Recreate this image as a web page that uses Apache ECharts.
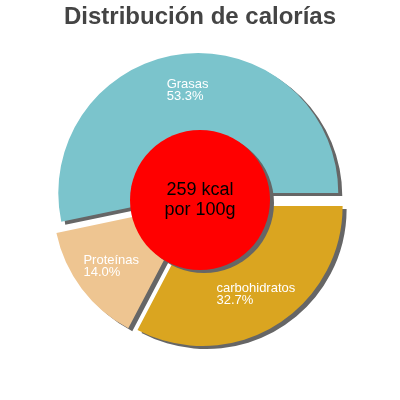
<!DOCTYPE html>
<html>
<head>
<meta charset="utf-8">
<script src="https://cdn.jsdelivr.net/npm/echarts@6/dist/echarts.min.js"></script>
<style>html,body{margin:0;padding:0;background:#fff}#c{width:400px;height:400px}</style>
</head>
<body>
<div id="c"></div>
<script>
const categories = ['Grasas', 'Proteínas', 'carbohidratos'];
const percentages = [53.3, 14.0, 32.7];
const sliceColors = ['#7BC4CC', '#EEC591', '#DAA520'];
const centerLines = ['259 kcal', 'por 100g'];
const titleText = 'Distribución de calorías';

const shadow = { shadowColor: '#666666', shadowBlur: 0, shadowOffsetX: 4, shadowOffsetY: 3 };

const chart = echarts.init(document.getElementById('c'), null, { renderer: 'canvas' });
chart.setOption({
  animation: false,
  title: {
    text: titleText,
    left: 'center',
    top: 0,
    textStyle: { fontFamily: 'Liberation Sans, Arial, sans-serif', fontSize: 24, fontWeight: 'bold', color: '#444444' }
  },
  series: [
    {
      type: 'pie',
      center: [199, 200],
      radius: [60, 140],
      startAngle: 0,
      clockwise: false,
      selectedMode: 'multiple',
      selectedOffset: 7,
      avoidLabelOverlap: false,
      emphasis: { disabled: true },
      select: { itemStyle: Object.assign({}, shadow) },
      itemStyle: Object.assign({ borderWidth: 0 }, shadow),
      label: {
        show: true,
        position: 'inside',
        color: '#ffffff',
        fontFamily: 'Liberation Sans, Arial, sans-serif',
        fontSize: 13,
        formatter: function (p) { return '{t|' + p.name + '}\n{t|' + p.value.toFixed(1) + '%}'; },
        rich: { t: { align: 'left', color: '#ffffff', fontSize: 13, lineHeight: 12, fontFamily: 'Liberation Sans, Arial, sans-serif' } }
      },
      labelLine: { show: false },
      data: categories.map((n, i) => ({ name: n, value: percentages[i], selected: true, itemStyle: { color: sliceColors[i] } }))
    },
    {
      type: 'pie',
      center: [200, 200],
      radius: [0, 70],
      silent: true,
      z: 5,
      itemStyle: Object.assign({ color: '#ff0000' }, shadow),
      label: {
        show: true,
        position: 'center',
        color: '#000000',
        fontFamily: 'Liberation Sans, Arial, sans-serif',
        fontSize: 18,
        lineHeight: 20,
        formatter: centerLines.join('\n')
      },
      labelLine: { show: false },
      data: [{ name: 'total', value: 1 }]
    }
  ]
});
</script>
</body>
</html>
